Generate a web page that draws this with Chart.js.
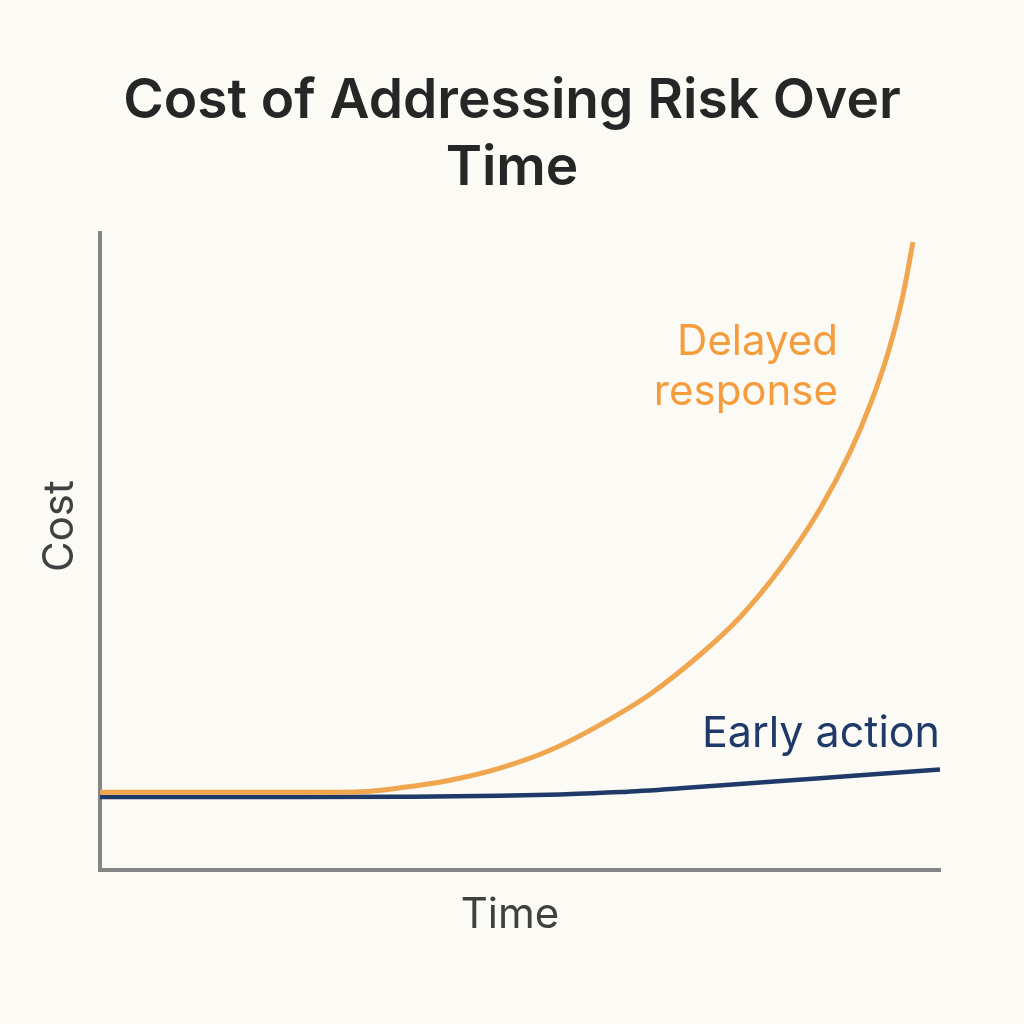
<!DOCTYPE html>
<html>
<head>
<meta charset="utf-8">
<title>Cost of Addressing Risk Over Time</title>
<script src="https://cdn.jsdelivr.net/npm/chart.js@4.4.1/dist/chart.umd.min.js"></script>
<style>
	html, body { margin: 0; padding: 0; background: #fcfaf5; }
	canvas { display: block; }
</style>
</head>
<body>
<canvas id="riskChart" width="1024" height="1024"></canvas>
<script>
// values (time 0-84, cost 0-100, no ticks shown)
const delayedTime = [0, 10, 20, 26, 30, 35, 40, 45, 50, 55, 60, 64, 68, 72, 75, 77, 78.8, 80.3, 81.3];
const delayedCost = [12.2, 12.2, 12.2, 12.3, 12.9, 14.1, 16.0, 18.8, 22.8, 27.6, 33.8, 39.7, 47.3, 56.7, 65.6, 73.0, 81.2, 90.3, 98.6];

const earlyTime = [0, 20, 30, 40, 46, 52, 58, 66, 75, 84];
const earlyCost = [11.46, 11.46, 11.51, 11.65, 11.87, 12.24, 12.83, 13.74, 14.76, 15.78];

const seriesNames = ["Delayed response", "Early action"];
const axisNames = ["Time", "Cost"];

const orange = "#f0a64e";
const navy = "#1f3a68";

const toPoints = (xs, ys) => xs.map((x, i) => ({ x: x, y: ys[i] }));

// paint the cream background
const background = {
	id: "background",
	beforeDraw: (chart) => {
		const ctx = chart.ctx;
		ctx.save();
		ctx.fillStyle = "#fcfaf5";
		ctx.fillRect(0, 0, chart.width, chart.height);
		ctx.restore();
	},
};

// series names next to the curves, plus the two axis names
const labels = {
	id: "labels",
	afterDatasetsDraw: (chart) => {
		const ctx = chart.ctx;
		const x = chart.scales.x;
		const y = chart.scales.y;
		ctx.save();
		ctx.textBaseline = "alphabetic";

		ctx.font = "400 42px Inter";
		ctx.textAlign = "right";
		ctx.fillStyle = "#f59c3c";
		const words = seriesNames[0].split(" ");
		ctx.fillText(words[0], x.getPixelForValue(73.8), y.getPixelForValue(80.85));
		ctx.fillText(words[1], x.getPixelForValue(73.8), y.getPixelForValue(73.0));

		ctx.font = "400 43px Inter";
		ctx.fillStyle = navy;
		ctx.fillText(seriesNames[1], x.getPixelForValue(84), y.getPixelForValue(19.3));

		// axis names
		ctx.font = "400 42px Inter";
		ctx.fillStyle = "#404040";
		ctx.textAlign = "center";
		ctx.fillText(axisNames[0], x.getPixelForValue(41), x.bottom - 96);

		ctx.translate(y.left + 73, y.getPixelForValue(54));
		ctx.rotate(-Math.PI / 2);
		ctx.fillText(axisNames[1], 0, 0);
		ctx.restore();
	},
};

new Chart(document.getElementById("riskChart"), {
	type: "line",
	data: {
		datasets: [
			{
				label: seriesNames[0],
				data: toPoints(delayedTime, delayedCost),
				borderColor: orange,
				borderWidth: 5,
				pointRadius: 0,
				cubicInterpolationMode: "monotone",
			},
			{
				label: seriesNames[1],
				data: toPoints(earlyTime, earlyCost),
				borderColor: navy,
				borderWidth: 4.5,
				pointRadius: 0,
				cubicInterpolationMode: "monotone",
			},
		],
	},
	options: {
		responsive: false,
		animation: false,
		layout: { padding: 0 },
		plugins: {
			legend: { display: false },
			tooltip: { enabled: false },
			title: {
				display: true,
				text: ["Cost of Addressing Risk Over", "Time"],
				color: "#262626",
				font: { family: "Inter", size: 55, weight: "600", lineHeight: 1.22 },
				padding: { top: 68, bottom: 31 },
			},
		},
		scales: {
			x: {
				type: "linear",
				min: 0,
				max: 84,
				ticks: { display: false },
				grid: { display: false },
				border: { display: true, color: "#858585", width: 4 },
				afterFit: (scale) => { scale.height = 154; },
			},
			y: {
				min: 0,
				max: 100,
				ticks: { display: false },
				grid: { display: false },
				border: { display: true, color: "#858585", width: 4 },
				afterFit: (scale) => { scale.width = 100; },
			},
			// empty right-hand scale that only keeps the margin
			gap: {
				position: "right",
				ticks: { display: false },
				grid: { display: false },
				border: { display: false },
				afterFit: (scale) => { scale.width = 84; },
			},
		},
	},
	plugins: [background, labels],
});
</script>
</body>
</html>
